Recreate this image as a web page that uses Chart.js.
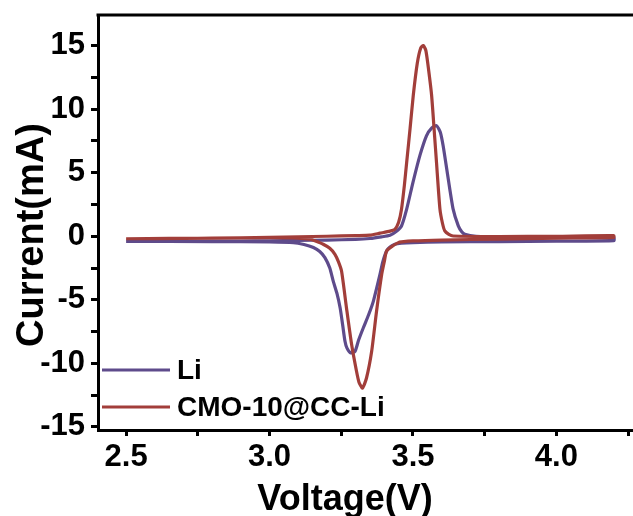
<!DOCTYPE html>
<html>
<head>
<meta charset="utf-8">
<script src="https://cdn.jsdelivr.net/npm/chart.js@4.4.1/dist/chart.umd.min.js"></script>
<style>
  html, body { margin: 0; padding: 0; background: #fff; overflow: hidden; }
  #wrap { width: 633px; height: 516px; position: relative; }
</style>
</head>
<body>
<div id="wrap"><canvas id="cv"></canvas></div>
<script>
// CV curves, forward scan (2.5 -> 4.2 V) then reverse scan (4.2 -> 2.5 V)
const liFwdV = [2.5, 2.7, 2.9, 3.0, 3.1, 3.2, 3.3, 3.35, 3.39, 3.42, 3.44, 3.46, 3.478, 3.5, 3.524, 3.547, 3.565, 3.582, 3.595, 3.605, 3.623, 3.64, 3.658, 3.67, 3.681, 3.72, 3.8, 4.0, 4.2];
const liFwdI = [-0.4, -0.4, -0.38, -0.36, -0.33, -0.3, -0.25, -0.18, -0.05, 0.08, 0.35, 0.81, 2.13, 4.24, 6.34, 7.9, 8.5, 8.7, 8.2, 7.13, 4.5, 2.13, 0.81, 0.35, 0.16, 0.0, -0.08, -0.1, -0.12];
const liRevV = [4.2, 4.0, 3.8, 3.6, 3.5, 3.46, 3.437, 3.42, 3.408, 3.395, 3.385, 3.362, 3.345, 3.327, 3.31, 3.298, 3.283, 3.27, 3.263, 3.255, 3.246, 3.235, 3.222, 3.21, 3.193, 3.175, 3.153, 3.12, 3.083, 3.0, 2.8, 2.5];
const liRevI = [-0.35, -0.38, -0.42, -0.45, -0.5, -0.55, -0.63, -0.85, -1.16, -2.0, -3.0, -5.1, -6.2, -7.2, -8.2, -9.05, -9.18, -8.8, -8.26, -7.0, -5.63, -4.5, -3.53, -2.5, -1.68, -1.2, -0.89, -0.65, -0.5, -0.45, -0.42, -0.4];

const cmoFwdV = [2.5, 2.7, 2.9, 3.0, 3.1, 3.2, 3.3, 3.35, 3.385, 3.42, 3.437, 3.45, 3.46, 3.47, 3.478, 3.49, 3.501, 3.515, 3.527, 3.536, 3.545, 3.555, 3.565, 3.575, 3.582, 3.594, 3.603, 3.611, 3.625, 3.64, 3.8, 4.0, 4.2];
const cmoFwdI = [-0.2, -0.18, -0.12, -0.08, -0.04, 0.0, 0.05, 0.08, 0.24, 0.4, 0.55, 1.1, 2.13, 4.0, 5.8, 8.5, 11.07, 13.6, 14.8, 15.0, 14.6, 13.0, 11.07, 8.0, 5.8, 2.13, 1.0, 0.42, 0.15, 0.02, -0.02, 0.0, 0.05];
const cmoRevV = [4.2, 4.0, 3.8, 3.6, 3.5, 3.46, 3.449, 3.43, 3.408, 3.4, 3.391, 3.373, 3.356, 3.338, 3.324, 3.312, 3.303, 3.286, 3.268, 3.251, 3.24, 3.228, 3.21, 3.187, 3.16, 3.141, 3.1, 3.0, 2.8, 2.5];
const cmoRevI = [-0.1, -0.15, -0.22, -0.3, -0.37, -0.45, -0.5, -0.75, -1.16, -2.0, -3.0, -5.9, -9.05, -11.15, -11.94, -11.5, -10.6, -8.5, -5.6, -2.74, -2.0, -1.42, -0.95, -0.63, -0.38, -0.24, -0.15, -0.12, -0.15, -0.2];

const seriesNames = ['Li', 'CMO-10@CC-Li'];
const seriesColors = ['#5e4b8b', '#a23e3a'];
const xTitle = 'Voltage(V)';
const yTitle = 'Current(mA)';

const FONT = "'Liberation Sans', Arial, sans-serif";

const toPoints = (vs, is) => vs.map((v, i) => ({ x: v, y: is[i] }));
const loop = (fv, fi, rv, ri) => toPoints(fv, fi).concat(toPoints(rv, ri));

// legend drawn inside the plot, lower left
const innerLegend = {
  id: 'innerLegend',
  afterDatasetsDraw(chart) {
    const ctx = chart.ctx;
    ctx.save();
    ctx.font = 'bold 28px ' + FONT;
    ctx.textBaseline = 'middle';
    ctx.fillStyle = '#000';
    chart.data.datasets.forEach((ds, i) => {
      const y = 370 + i * 37;
      ctx.strokeStyle = ds.borderColor;
      ctx.lineWidth = 3;
      ctx.beginPath();
      ctx.moveTo(102, y);
      ctx.lineTo(170, y);
      ctx.stroke();
      ctx.fillText(ds.label, 177, y + 1);
    });
    ctx.restore();
  }
};

// top frame line and axis titles
const frameAndTitles = {
  id: 'frameAndTitles',
  afterDraw(chart) {
    const { ctx, chartArea } = chart;
    ctx.save();
    ctx.strokeStyle = '#000';
    ctx.lineWidth = 3;
    ctx.beginPath();
    ctx.moveTo(chartArea.left - 1.5, chartArea.top);
    ctx.lineTo(chart.width, chartArea.top);
    ctx.stroke();

    ctx.fillStyle = '#000';
    ctx.font = 'bold 36px ' + FONT;
    ctx.textAlign = 'center';
    ctx.textBaseline = 'alphabetic';
    ctx.fillText(xTitle, 345, 510);

    ctx.translate(43, 235);
    ctx.rotate(-Math.PI / 2);
    ctx.font = 'bold 38px ' + FONT;
    ctx.fillText(yTitle, 0, 0);
    ctx.restore();
  }
};

const chart = new Chart(document.getElementById('cv'), {
  type: 'scatter',
  data: {
    datasets: [
      {
        label: seriesNames[0],
        data: loop(liFwdV, liFwdI, liRevV, liRevI),
        borderColor: seriesColors[0],
        backgroundColor: seriesColors[0],
        order: 1
      },
      {
        label: seriesNames[1],
        data: loop(cmoFwdV, cmoFwdI, cmoRevV, cmoRevI),
        borderColor: seriesColors[1],
        backgroundColor: seriesColors[1],
        order: 0
      }
    ]
  },
  options: {
    responsive: true,
    maintainAspectRatio: false,
    animation: false,
    showLine: true,
    elements: {
      point: { radius: 0 },
      line: { borderWidth: 3.2, tension: 0.2 }
    },
    layout: { padding: { top: 15, right: 0, left: 0, bottom: 0 } },
    plugins: {
      legend: { display: false },
      tooltip: { enabled: false }
    },
    scales: {
      x: {
        type: 'linear',
        min: 2.402,
        max: 4.267,
        afterFit: (s) => { s.height = 86; },
        border: { display: true, width: 3, color: '#000' },
        grid: { drawOnChartArea: false, drawTicks: true, tickLength: 6, lineWidth: 3, color: '#000' },
        ticks: {
          stepSize: 0.25,
          includeBounds: false,
          autoSkip: false,
          maxRotation: 0,
          padding: 3,
          color: '#000',
          font: { family: FONT, size: 31, weight: 'bold' },
          callback: (v) => (Math.abs(v * 2 - Math.round(v * 2)) < 1e-6 ? v.toFixed(1) : '')
        }
      },
      y: {
        type: 'linear',
        min: -15.24,
        max: 17.4,
        afterFit: (s) => { s.width = 98; },
        border: { display: true, width: 3, color: '#000' },
        grid: { drawOnChartArea: false, drawTicks: true, tickLength: 7, lineWidth: 3, color: '#000' },
        ticks: {
          stepSize: 2.5,
          includeBounds: false,
          autoSkip: false,
          padding: 6,
          color: '#000',
          font: { family: FONT, size: 31, weight: 'bold', lineHeight: 0.5 },
          callback: (v) => (Math.abs(v / 5 - Math.round(v / 5)) < 1e-6 ? String(Math.round(v)) : '')
        }
      }
    }
  },
  plugins: [innerLegend, frameAndTitles]
});
</script>
</body>
</html>
